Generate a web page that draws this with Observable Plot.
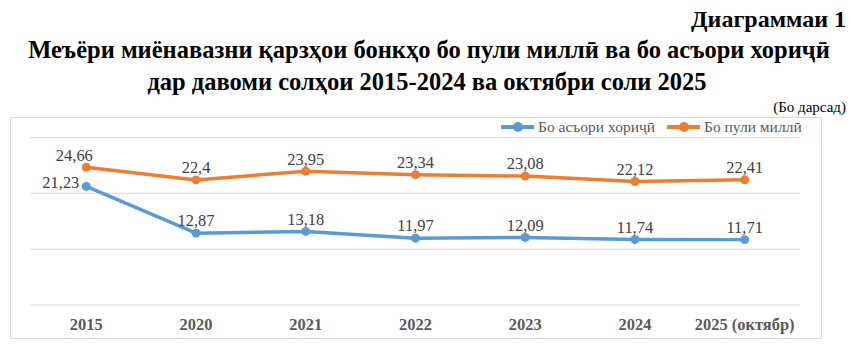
<!DOCTYPE html>
<html><head><meta charset="utf-8">
<script src="https://cdn.jsdelivr.net/npm/d3@7"></script>
<script src="https://cdn.jsdelivr.net/npm/@observablehq/plot@0.6"></script>
<style>
body{margin:0;background:#fff;font-family:'Liberation Serif','Times New Roman',serif;}
#wrap{position:relative;width:854px;height:352px;overflow:hidden;}
.t{position:absolute;font-weight:bold;color:#000;white-space:nowrap;line-height:1;}
#num{right:8px;top:7px;font-size:24px;}
#t1{left:0;width:858px;text-align:center;top:38px;font-size:24.5px;}
#t2{left:0;width:854px;text-align:center;top:70px;font-size:24.5px;}
#unit{position:absolute;right:8px;top:100px;font-size:15px;color:#000;line-height:1;}
#chart{position:absolute;left:10px;top:117px;width:812px;height:222px;border:1px solid #d9d9d9;box-sizing:border-box;}
#chart svg{position:absolute;left:-1px;top:-1px;}
#legend{position:absolute;left:501px;top:118px;font-size:15.5px;color:#595959;display:flex;align-items:center;}
.li{display:flex;align-items:center;margin-right:12px;}
.sw{position:relative;width:33px;height:4px;margin-right:4px;}
.sw i{position:absolute;left:12px;top:-3px;width:10px;height:10px;border-radius:5px;}
</style></head>
<body><div id="wrap">
<div class="t" id="num">Диаграммаи 1</div>
<div class="t" id="t1">Меъёри миёнавазни қарзҳои бонкҳо бо пули миллӣ ва бо асъори хориҷӣ</div>
<div class="t" id="t2">дар давоми солҳои 2015-2024 ва октябри соли 2025</div>
<div id="unit">(Бо дарсад)</div>
<div id="chart"></div>
<div id="legend"></div>
</div>
<script>
const years = ["2015","2020","2021","2022","2023","2024","2025 (октябр)"];
const foreign = [21.23, 12.87, 13.18, 11.97, 12.09, 11.74, 11.71];
const national = [24.66, 22.4, 23.95, 23.34, 23.08, 22.12, 22.41];
const seriesNames = ["Бо асъори хориҷӣ", "Бо пули миллӣ"];
const colors = ["#5B9BD5", "#ED7D31"];
const yTicks = [0, 10, 20, 30];

const data = [];
years.forEach((y, i) => {
  data.push({year: y, value: foreign[i], series: seriesNames[0]});
  data.push({year: y, value: national[i], series: seriesNames[1]});
});
const fmt = v => String(v).replace(".", ",");
const first = data.filter(d => d.year === years[0]);
const rest = data.filter(d => d.year !== years[0]);
const ff = "'Liberation Serif', 'Times New Roman', serif";

const plot = Plot.plot({
  width: 812, height: 222,
  marginLeft: 20, marginRight: 20, marginTop: 20, marginBottom: 34,
  style: {background: "transparent", fontFamily: ff, overflow: "visible"},
  x: {type: "point", domain: years, padding: 0.5, label: null},
  y: {domain: [0, 30], label: null, axis: null},
  color: {domain: seriesNames, range: colors},
  marks: [
    Plot.gridY(yTicks, {stroke: "#d9d9d9", strokeOpacity: 1, strokeWidth: 1}),
    Plot.axisX({tickSize: 0, tickPadding: 13, fontSize: 16.5, fontWeight: "bold", fill: "#595959", label: null, fontFamily: ff}),
    Plot.line(data, {x: "year", y: "value", z: "series", stroke: "series", strokeWidth: 3.5}),
    Plot.dot(data, {x: "year", y: "value", fill: "series", r: 4.5}),
    Plot.text(rest, {x: "year", y: "value", text: d => fmt(d.value), dy: -12, fontSize: 16.5, fill: "#404040", fontFamily: ff}),
    Plot.text(first.filter(d => d.series === seriesNames[1]), {x: "year", y: "value", text: d => fmt(d.value), dx: -12, dy: -12, fontSize: 16.5, fill: "#404040", fontFamily: ff}),
    Plot.text(first.filter(d => d.series === seriesNames[0]), {x: "year", y: "value", text: d => fmt(d.value), dx: -7, dy: -4, textAnchor: "end", fontSize: 16.5, fill: "#404040", fontFamily: ff})
  ]
});
document.getElementById("chart").appendChild(plot);

const leg = document.getElementById("legend");
seriesNames.forEach((n, i) => {
  const el = document.createElement("div");
  el.className = "li";
  el.innerHTML = `<div class="sw" style="background:${colors[i]}"><i style="background:${colors[i]}"></i></div><span>${n}</span>`;
  leg.appendChild(el);
});
</script>
</body></html>
